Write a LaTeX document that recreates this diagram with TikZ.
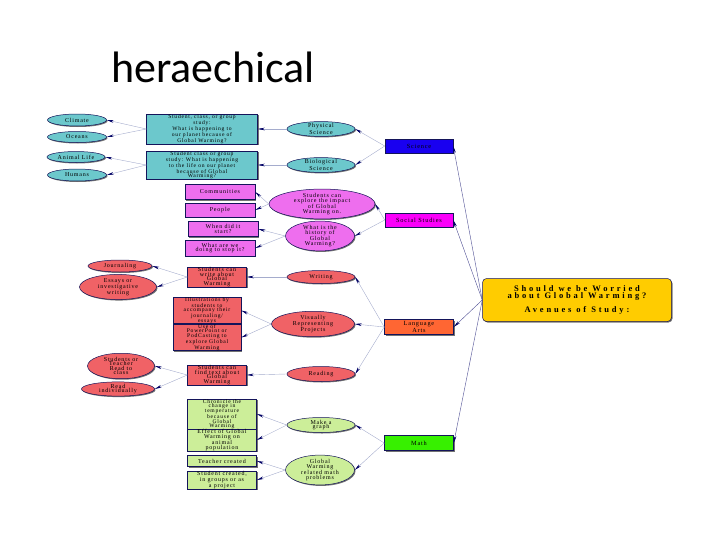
\documentclass[tikz,border=0pt]{standalone}
\usepackage{fontspec}
\usetikzlibrary{shapes, arrows.meta, shadows}
\newfontfamily\mapfont[LetterSpace=13]{Liberation Serif}
\newfontfamily\hubfont[LetterSpace=33]{Liberation Serif}
\newfontfamily\titlefont{Carlito}
\definecolor{edge}{RGB}{20,20,90}
\definecolor{linkc}{RGB}{165,172,205}
\definecolor{tipc}{RGB}{0,0,100}
\definecolor{teal}{RGB}{108,200,204}
\definecolor{sciblue}{RGB}{25,0,240}
\definecolor{magbox}{RGB}{250,0,250}
\definecolor{maglight}{RGB}{238,110,238}
\definecolor{orangebox}{RGB}{255,102,51}
\definecolor{salmon}{RGB}{240,98,102}
\definecolor{greenbox}{RGB}{55,240,0}
\definecolor{greenlight}{RGB}{204,238,153}
\definecolor{gold}{RGB}{255,204,0}
\tikzstyle{card}    = [rectangle, draw=edge, line width=0.5pt, inner sep=0.3pt, align=center,
                       font=\mapfont\fontsize{6}{4.6}\selectfont,
                       drop shadow={shadow xshift=1pt, shadow yshift=-1pt, fill=black!55, opacity=1}]
\tikzstyle{dense}   = [font=\mapfont\fontsize{5.6}{4.3}\selectfont]
\tikzstyle{bubble}  = [card, ellipse, inner sep=0pt]
\tikzstyle{subject} = [card, minimum width=69pt, minimum height=15pt, font=\mapfont\fontsize{6.3}{5.2}\selectfont]
\tikzstyle{link}    = [line width=0.4pt, draw=linkc, -{Stealth[color=tipc, length=7pt, width=2.6pt]}]
\tikzstyle{trunk}   = [link, draw=tipc!70]
\begin{document}
\begin{tikzpicture}[x=1pt, y=-1pt]
\useasboundingbox (0,0) rectangle (728,546);
\node (title) [anchor=base west, inner sep=0pt, font=\titlefont\fontsize{44}{50}\selectfont] at (111,82) {heraechical};
\node (main) [card, rounded corners=4pt, fill=gold, minimum width=189pt, minimum height=43pt, font=\hubfont\bfseries\fontsize{8.5}{7}\selectfont] at (577,300) {Should we be Worried\\about Global Warming?\\[6pt]Avenues of Study:};
\node (science) [subject, fill=sciblue, minimum width=68pt, minimum height=14pt] at (419,146) {Science};
\node (social) [subject, fill=magbox, minimum width=68pt, minimum height=14pt] at (419,220) {Social Studies};
\node (lang arts) [subject, fill=orangebox] at (419,327) {Language\\Arts};
\node (math) [subject, fill=greenbox] at (419,443) {Math};
\node (physical) [bubble, fill=teal, minimum width=68pt, minimum height=14pt] at (321,129) {Physical\\Science};
\node (biological) [bubble, fill=teal, minimum width=68pt, minimum height=14pt] at (321,165) {Biological\\Science};
\node (study planet) [card, dense, fill=teal, minimum width=111pt, minimum height=30pt] at (202,129) {Student, class, or group\\study:\\What is happening to\\our planet because of\\Global Warming?};
\node (study life) [card, dense, fill=teal, minimum width=111pt, minimum height=26pt] at (202,165) {Student class or group\\study: What is happening\\to the life on our planet\\because of Global\\Warming?};
\node (climate) [bubble, fill=teal, minimum width=59pt, minimum height=12pt] at (77,120) {Climate};
\node (oceans) [bubble, fill=teal, minimum width=59pt, minimum height=11pt] at (77,137) {Oceans};
\node (animal life) [bubble, fill=teal, minimum width=58pt, minimum height=11pt] at (76,157) {Animal Life};
\node (humans) [bubble, fill=teal, minimum width=59pt, minimum height=12pt] at (77,175) {Humans};
\node (explore) [bubble, fill=maglight, minimum width=106pt, minimum height=25pt] at (322,204) {Students can\\explore the impact\\of Global\\Warming on.};
\node (history) [bubble, fill=maglight, minimum width=69pt, minimum height=23pt] at (320,236) {What is the\\history of\\Global\\Warming?};
\node (communities) [card, fill=maglight, minimum width=70pt, minimum height=15pt] at (220,192) {Communities};
\node (people) [card, fill=maglight, minimum width=70pt, minimum height=14pt] at (220,210) {People};
\node (start) [card, fill=maglight, minimum width=70pt, minimum height=15pt] at (223,229) {When did it\\start?};
\node (stop) [card, fill=maglight, minimum width=70pt, minimum height=16pt] at (220,248) {What are we\\doing to stop it?};
\node (writing) [bubble, fill=salmon, minimum width=68pt, minimum height=13pt] at (321,277) {Writing};
\node (visual) [bubble, fill=salmon, minimum width=83pt, minimum height=19pt] at (313,324) {Visually\\Representing\\Projects};
\node (reading) [bubble, fill=salmon, minimum width=68pt, minimum height=15pt] at (321,374) {Reading};
\node (write about) [card, fill=salmon, minimum width=59pt, minimum height=20pt] at (217,277) {Students can\\write about\\Global\\Warming};
\node (illustrations) [card, dense, fill=salmon, minimum width=68pt, minimum height=24pt] at (207,310.5) {Illustrations by\\students to\\accompany their\\journaling/\\essays};
\node (powerpoint) [card, dense, fill=salmon, minimum width=68pt, minimum height=24pt] at (207,337.5) {Use of\\PowerPoint or\\PodCasting to\\explore Global\\Warming};
\node (find text) [card, fill=salmon, minimum width=59pt, minimum height=20pt] at (217,375) {Students can\\find text about\\Global\\Warming};
\node (journaling) [bubble, fill=salmon, minimum width=64pt, minimum height=12pt] at (120,266) {Journaling};
\node (essays) [bubble, fill=salmon, minimum width=77pt, minimum height=17pt] at (118,287) {Essays or\\investigative\\writing};
\node (read class) [bubble, fill=salmon, minimum width=67pt, minimum height=23pt] at (121,366) {Students or\\Teacher\\Read to\\class};
\node (read alone) [bubble, fill=salmon, minimum width=73pt, minimum height=13pt] at (118,389) {Read\\individually};
\node (graph) [bubble, fill=greenlight, minimum width=68pt, minimum height=15pt] at (321,425) {Make a\\graph};
\node (problems) [bubble, fill=greenlight, minimum width=69pt, minimum height=25pt] at (320,470) {Global\\Warming\\related math\\problems};
\node (chronicle) [card, dense, fill=greenlight, minimum width=69pt, minimum height=28pt] at (222,414) {Chronicle the\\change in\\temperature\\because of\\Global\\Warming};
\node (effect) [card, fill=greenlight, minimum width=69pt, minimum height=18pt] at (222,440) {Effect of Global\\Warming on\\animal\\population};
\node (teacher) [card, fill=greenlight, minimum width=69pt, minimum height=11pt] at (222,461) {Teacher created};
\node (student) [card, fill=greenlight, minimum width=69pt, minimum height=15pt] at (222,480) {Student created,\\in groups or as\\a project};
\draw [trunk] (main.west) -- (science.east);
\draw [trunk] (main.west) -- (social.east);
\draw [trunk] (main.west) -- (lang arts.east);
\draw [trunk] (main.west) -- (math.east);
\draw [link] (science.west) -- (physical.east);
\draw [link] (science.west) -- (biological.east);
\draw [link] (physical.west) -- (study planet.east);
\draw [link] (biological.west) -- (study life.east);
\draw [link] (study planet.west) -- (climate.east);
\draw [link] (study planet.west) -- (oceans.east);
\draw [link] (study life.west) -- (animal life.east);
\draw [link] (study life.west) -- (humans.east);
\draw [link] (social.west) -- (explore.east);
\draw [link] (social.west) -- (history.east);
\draw [link] (explore.west) -- (communities.east);
\draw [link] (explore.west) -- (people.east);
\draw [link] (history.west) -- (start.east);
\draw [link] (history.west) -- (stop.east);
\draw [link] (lang arts.west) -- (writing.east);
\draw [link] (lang arts.west) -- (visual.east);
\draw [link] (lang arts.west) -- (reading.east);
\draw [link] (writing.west) -- (write about.east);
\draw [link] (visual.west) -- (illustrations.east);
\draw [link] (visual.west) -- (powerpoint.east);
\draw [link] (reading.west) -- (find text.east);
\draw [link] (write about.west) -- (journaling.east);
\draw [link] (write about.west) -- (essays.east);
\draw [link] (find text.west) -- (read class.east);
\draw [link] (find text.west) -- (read alone.east);
\draw [link] (math.west) -- (graph.east);
\draw [link] (math.west) -- (problems.east);
\draw [link] (graph.west) -- (chronicle.east);
\draw [link] (graph.west) -- (effect.east);
\draw [link] (problems.west) -- (teacher.east);
\draw [link] (problems.west) -- (student.east);
\end{tikzpicture}
\end{document}
